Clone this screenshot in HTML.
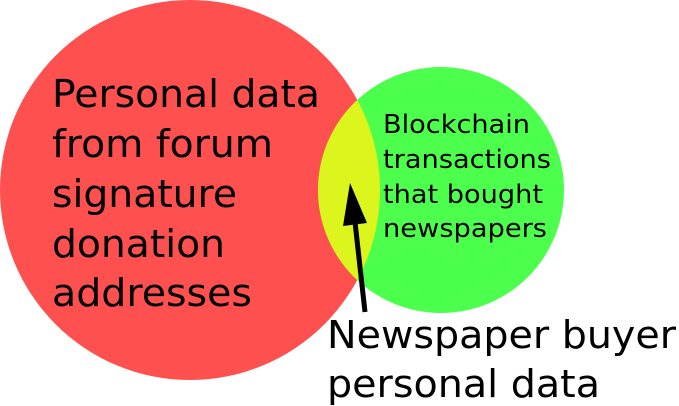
<!DOCTYPE html>
<html><head><meta charset="utf-8"><style>
html,body{margin:0;padding:0;background:#fff;}
svg{display:block;}
text{font-family:"DejaVu Sans","Liberation Sans",sans-serif;fill:#000;}
</style></head><body>
<svg width="679" height="406" viewBox="0 0 679 406" xmlns="http://www.w3.org/2000/svg">
<defs>
<clipPath id="g"><circle cx="441" cy="190" r="123"/></clipPath>
</defs>
<circle cx="190" cy="190" r="190" fill="#ff5050"/>
<circle cx="441" cy="190" r="123" fill="#4dff4d"/>
<circle cx="190" cy="190" r="190" fill="#dcf51c" clip-path="url(#g)"/>
<g font-size="38">
<text x="52" y="107" textLength="268" lengthAdjust="spacingAndGlyphs">Personal data</text>
<text x="52" y="157" textLength="221" lengthAdjust="spacingAndGlyphs">from forum</text>
<text x="52" y="207" textLength="185" lengthAdjust="spacingAndGlyphs">signature</text>
<text x="52" y="257" textLength="173" lengthAdjust="spacingAndGlyphs">donation</text>
<text x="52" y="306" textLength="200" lengthAdjust="spacingAndGlyphs">addresses</text>
</g>
<g font-size="26">
<text x="383" y="133" textLength="147" lengthAdjust="spacingAndGlyphs">Blockchain</text>
<text x="383" y="168" textLength="168" lengthAdjust="spacingAndGlyphs">transactions</text>
<text x="383" y="203" textLength="160" lengthAdjust="spacingAndGlyphs">that bought</text>
<text x="383" y="237" textLength="164" lengthAdjust="spacingAndGlyphs">newspapers</text>
</g>
<line x1="365" y1="312" x2="355" y2="222" stroke="#000" stroke-width="5"/>
<polygon points="350,183 343,226 367,223" fill="#000"/>
<g font-size="38">
<text x="327" y="348" textLength="349" lengthAdjust="spacingAndGlyphs">Newspaper buyer</text>
<text x="327" y="397" textLength="273" lengthAdjust="spacingAndGlyphs">personal data</text>
</g>
</svg>
</body></html>
